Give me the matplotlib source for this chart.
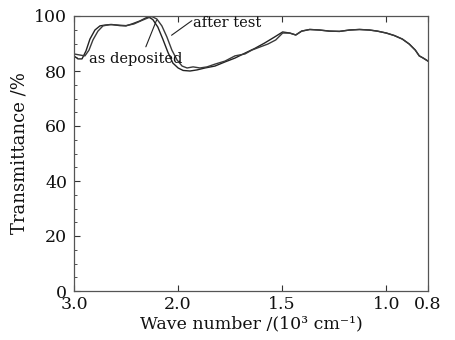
import numpy as np
import matplotlib
matplotlib.use("Agg")
import matplotlib.pyplot as plt
from matplotlib.ticker import MultipleLocator, FixedLocator, FixedFormatter

# ---- data (wave number in 10^3 cm^-1, transmittance in %) ----
wn_dep = [3.0, 2.962, 2.923, 2.885, 2.847, 2.799, 2.751, 2.703, 2.636, 2.559, 2.501,
          2.444, 2.367, 2.310, 2.281, 2.243, 2.195, 2.147, 2.099, 2.051, 2.0,
          1.976, 1.943, 1.909, 1.871, 1.823, 1.775, 1.727, 1.679, 1.632, 1.584,
          1.536, 1.498, 1.464, 1.435, 1.407, 1.368, 1.321, 1.273, 1.225, 1.177,
          1.129, 1.081, 1.043, 1.0, 0.962, 0.923, 0.890, 0.861, 0.842, 0.823, 0.8]
tr_dep = [85.5, 84.4, 84.4, 87.3, 91.6, 94.9, 96.4, 96.7, 96.9, 96.5, 96.4,
          97.1, 98.2, 99.3, 99.6, 98.7, 96.0, 91.6, 86.9, 82.9, 81.1,
          80.2, 80.0, 80.4, 81.1, 81.8, 83.3, 84.7, 86.5, 88.2, 90.2,
          92.4, 94.2, 93.8, 93.1, 94.5, 95.1, 94.9, 94.5, 94.4, 94.9,
          95.1, 94.9, 94.5, 93.8, 92.9, 91.6, 89.8, 87.6, 85.5, 84.7, 83.6]

wn_test = [3.0, 2.942, 2.895, 2.856, 2.818, 2.770, 2.722, 2.655, 2.578, 2.501,
           2.425, 2.348, 2.290, 2.252, 2.204, 2.156, 2.108, 2.060, 2.010,
           1.981, 1.957, 1.928, 1.895, 1.861, 1.823, 1.775, 1.727, 1.679,
           1.646, 1.608, 1.569, 1.531, 1.498, 1.464, 1.435, 1.407, 1.368,
           1.321, 1.273, 1.225, 1.177, 1.129, 1.081, 1.043, 1.0, 0.962,
           0.923, 0.890, 0.861, 0.842, 0.823, 0.8]
tr_test = [86.2, 85.8, 85.5, 87.6, 91.3, 94.5, 96.4, 96.9, 96.7, 96.5,
           97.1, 98.4, 99.3, 99.8, 98.9, 96.4, 92.4, 87.6, 84.0,
           81.8, 81.1, 81.5, 81.1, 81.5, 82.5, 83.6, 85.5, 86.2,
           87.6, 88.7, 89.8, 91.3, 93.8, 93.8, 93.1, 94.5, 95.1,
           94.9, 94.5, 94.4, 94.9, 95.1, 94.9, 94.5, 93.8, 92.9,
           91.6, 89.8, 87.6, 85.5, 84.7, 83.6]

x_ticks = [3.0, 2.0, 1.5, 1.0, 0.8]
x_tick_labels = ["3.0", "2.0", "1.5", "1.0", "0.8"]
y_ticks = [0, 20, 40, 60, 80, 100]

# piecewise scale: 3.0-2.0 region compressed by factor 2
def fwd(w):
    w = np.asarray(w, dtype=float)
    return np.where(w <= 2.0, 2.0 * w, w + 2.0)

def inv(u):
    u = np.asarray(u, dtype=float)
    return np.where(u <= 4.0, u / 2.0, u - 2.0)

plt.rcParams['font.family'] = ['DejaVu Serif']

fig = plt.figure(figsize=(4.56, 3.40), dpi=100)
ax = fig.add_axes([74/456, 1-291/340, (428-74)/456, (291-16)/340])
ax.set_xscale('function', functions=(fwd, inv))

ax.plot(wn_dep, tr_dep, color='#222222', lw=1.0)
ax.plot(wn_test, tr_test, color='#3a3a3a', lw=1.0)

ax.set_xlim(3.0, 0.8)
ax.set_ylim(0, 100)
ax.xaxis.set_major_locator(FixedLocator(x_ticks))
ax.xaxis.set_major_formatter(FixedFormatter(x_tick_labels))
ax.xaxis.set_minor_locator(FixedLocator([]))
ax.yaxis.set_major_locator(FixedLocator(y_ticks))
ax.yaxis.set_minor_locator(MultipleLocator(5))

ax.tick_params(axis='both', which='both', direction='in', labelsize=12.5, colors='#333333',
               labelcolor='#111111')
ax.tick_params(axis='x', which='major', length=4, top=True, pad=3.5)
ax.tick_params(axis='y', which='major', length=4, pad=5)
ax.tick_params(axis='y', which='minor', length=2.5)
for s in ax.spines.values():
    s.set_color('#555555')
    s.set_linewidth(0.9)

ax.set_xlabel('Wave number /(10³ cm⁻¹)', fontsize=12.5, labelpad=2, color='#111111')
ax.set_ylabel('Transmittance /%', fontsize=13, labelpad=4, color='#111111')

ax.annotate('', xy=(2.063, 93.0), xytext=(1.934, 98.3),
            arrowprops=dict(arrowstyle='-', color='#222222', lw=0.8,
                            shrinkA=0, shrinkB=0))
ax.text(1.930, 97.4, 'after test', fontsize=10.5, va='center', ha='left', color='#111111')
ax.annotate('', xy=(2.207, 98.5), xytext=(2.310, 88.8),
            arrowprops=dict(arrowstyle='-', color='#222222', lw=0.8,
                            shrinkA=0, shrinkB=0))
ax.text(2.86, 84.4, 'as deposited', fontsize=10.5, va='center', ha='left', color='#111111')

fig.savefig('out.png', dpi=100)
